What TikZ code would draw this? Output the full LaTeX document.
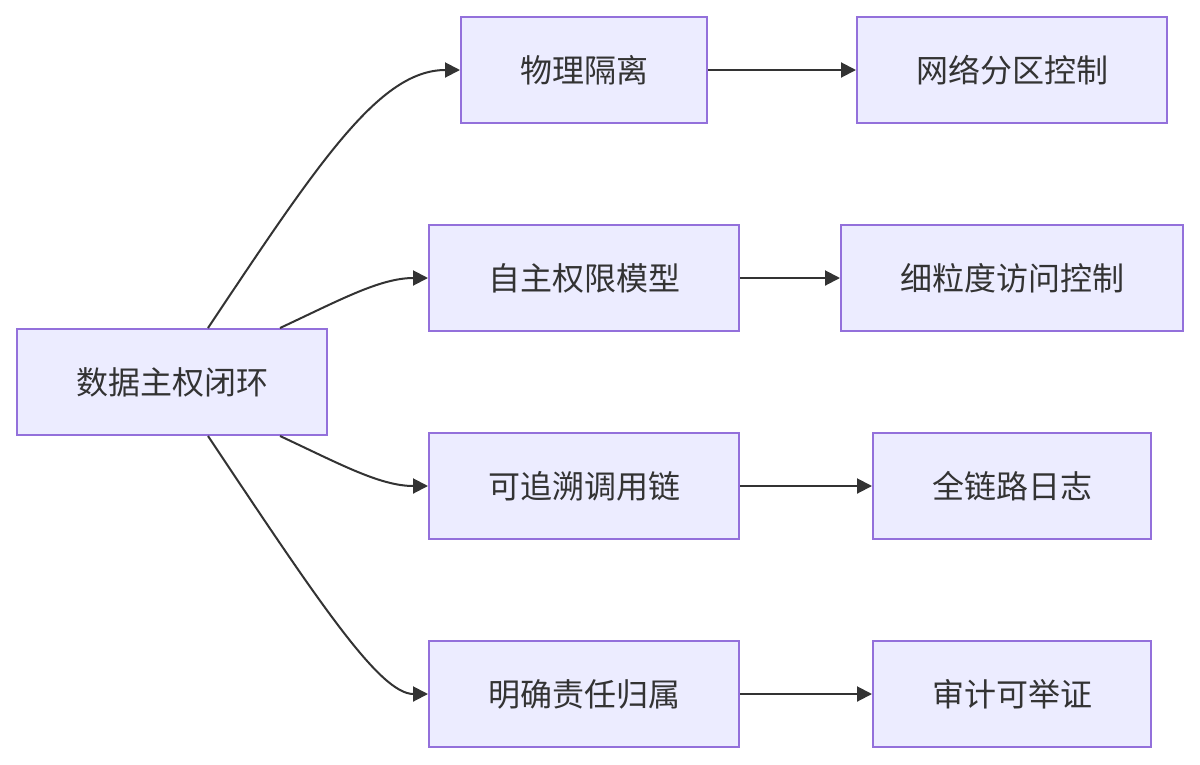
\documentclass[tikz,border=0pt]{standalone}
\usepackage{fontspec}
\setmainfont{Noto Sans CJK SC}
\usetikzlibrary{arrows.meta}
\definecolor{c1}{HTML}{333333}
\definecolor{c2}{HTML}{9370DB}
\definecolor{c3}{HTML}{ECECFF}

\begin{document}
\begin{tikzpicture}[
    x=1pt, y=-1pt,
    every node/.style={font=\fontsize{32}{38}\selectfont, text=c1},
    box/.style={
        rectangle, minimum height=106pt, inner xsep=59pt,
        line width=2pt, draw=c2, fill=c3,
    },
    arr/.style={-{Triangle[length=15pt, width=15pt]}, line width=2pt, color=c1},
]
\useasboundingbox (0,0) rectangle (1200,764);

% ---------------------------------------------------------------- root
\node[box] (root) at (172, 382) {数据主权闭环};

% ---------------------------------------------------------------- middle column
\node[box] (phys)  at (584,  70) {物理隔离};
\node[box] (auth)  at (584, 278) {自主权限模型};
\node[box] (trace) at (584, 486) {可追溯调用链};
\node[box] (duty)  at (584, 694) {明确责任归属};

% ---------------------------------------------------------------- right column
\node[box] (net)   at (1012,  70) {网络分区控制};
\node[box] (fine)  at (1012, 278) {细粒度访问控制};
\node[box] (logs)  at (1012, 486) {全链路日志};
\node[box] (audit) at (1012, 694) {审计可举证};

% root to middle column
\draw[arr] ([xshift=36pt]root.north) .. controls (320,160) and (380,70) .. (phys.west);
\draw[arr] ([xshift=108pt]root.north) .. controls (340,300) and (380,278) .. (auth.west);
\draw[arr] ([xshift=108pt]root.south) .. controls (340,464) and (380,486) .. (trace.west);
\draw[arr] ([xshift=36pt]root.south) .. controls (320,604) and (380,694) .. (duty.west);

% middle to right column
\draw[arr] (phys.east) -- (net.west);
\draw[arr] (auth.east) -- (fine.west);
\draw[arr] (trace.east) -- (logs.west);
\draw[arr] (duty.east) -- (audit.west);

\end{tikzpicture}
\end{document}
